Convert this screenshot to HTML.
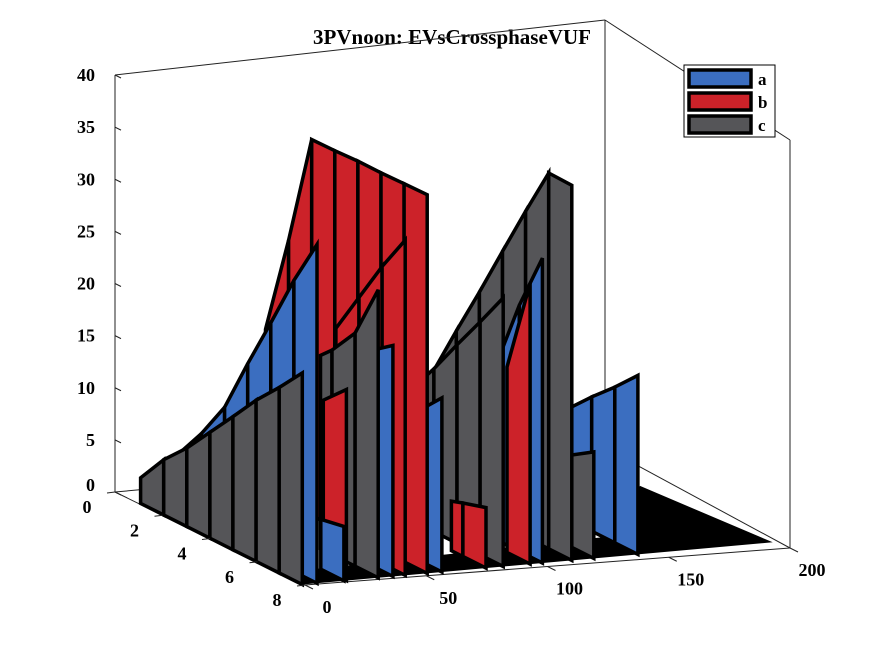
<!DOCTYPE html>
<html><head><meta charset="utf-8"><style>
html,body{margin:0;padding:0;background:#fff;}
svg{display:block;font-family:"Liberation Serif",serif;font-weight:bold;}
</style></head><body>
<svg id="chart" width="875" height="656" viewBox="0 0 875 656">
<text x="452" y="44" text-anchor="middle" font-size="21">3PVnoon: EVsCrossphaseVUF</text>
<g id="box"></g>
<g id="floor"></g>
<g id="marks"></g>
<g id="ticks"></g>
<g>
<rect x="684" y="65" width="91" height="72" fill="#fff" stroke="#000" stroke-width="1"/>
<g><rect x="689" y="70" width="62" height="17" fill="#3b6ec0" stroke="#000" stroke-width="3.5"/><text x="758" y="85" font-size="17">a</text></g>
<g><rect x="689" y="93" width="62" height="17" fill="#cc2229" stroke="#000" stroke-width="3.5"/><text x="758" y="108" font-size="17">b</text></g>
<g><rect x="689" y="116" width="62" height="17" fill="#555558" stroke="#000" stroke-width="3.5"/><text x="758" y="131" font-size="17">c</text></g>
</g>
</svg>
<script>
// ---- data ----
const seriesNames = ['a','b','c'];
const seriesColors = ['#3b6ec0','#cc2229','#555558'];
const zTicks = [0,5,10,15,20,25,30,35,40];
const yTicks = [0,2,4,6,8];
const xTicks = [0,50,100,150,200];
// ribbons in draw order (back to front)
const ribbonSeries = ['a','c','c','a','b','c','b','a','b','b','a','c','b','a','a','c'];
const ribbonX = [138,120,111,99,94,83,76,58,52,43,38,32,19,18,7,1];
const ribbonYs = [
 [5,6,7,8],[7,8],[2,3,4,5,6,7,8],[6,7,8],[7,8],[4,5,6,7,8],[6.5,7,8],[6,7,8],
 [1,2,3,4,5,6,7,8],[5,6,7,8],[7,8],[5.5,6,7,8],[7,8],[7,8],[1,2,3,4,5,6,7,8],[1,2,3,4,5,6,7,8]];
const ribbonZs = [
 [9.7,11.5,13.1,14.8],[7.7,8.8],[11,15.5,19.7,23.9,27.9,31.6,31],[15,20.7,25.2],[15.6,23.2],
 [11.6,14.2,17,19.6,22.2],[4.2,4.5,5],[10,12.6,14.4],
 [15.3,24.3,34,33.4,32.9,32.3,31.8,31.3],[18.5,21.8,25,27.7],[18,19.1],[16.7,17.5,19.6,23.8],
 [14.2,15.8],[4.2,4.5],[2.8,5.5,8.3,11.5,16.1,20.3,24.5,28],[2.4,5.1,7.1,9.4,11.6,13.8,15.6,17.5]];
const floorXs = [0,0,140,186,193];
const floorYs = [8,7,6.5,3,8];

// ---- projection ----
function P(x,y,z){ return [115+2.45*x+23.1*y, 492-0.22*x+11.6*y - z*10.43*(1+0.02*y)]; }
// axis box corners (screen) for the bounding box: back-left, front-left, front-right, back-right
const BL=[115,492], FL=[305,585], FR=[790,548], BR=[605,448];
const BLt=[115,75], BRt=[605,20], FRt=[790,140];
function lerp(a,b,t){return [a[0]+(b[0]-a[0])*t, a[1]+(b[1]-a[1])*t];}
const NS='http://www.w3.org/2000/svg';
function el(tag,attrs,parent){const e=document.createElementNS(NS,tag);for(const k in attrs)e.setAttribute(k,attrs[k]);parent.appendChild(e);return e;}
function pts(a){return a.map(p=>p[0].toFixed(1)+','+p[1].toFixed(1)).join(' ');}

// box
const box=document.getElementById('box');
const boxLines=[[BL,BLt],[BLt,BRt],[BRt,BR],[BRt,FRt],[FRt,FR],[BR,FR],[BL,FL],[FL,FR],[BL,BR]];
boxLines.forEach(l=>{const a=l[0],b=l[1];
 const ln=el('line',{x1:a[0],y1:a[1],x2:b[0],y2:b[1],stroke:'#222','stroke-width':1},box);
 
 });

// floor
const fl=document.getElementById('floor');
const fp=floorXs.map((x,i)=>P(x,floorYs[i],0));
const fpoly=el('polygon',{points:pts(fp),fill:'#000'},fl);



// ribbons
const marks=document.getElementById('marks');
ribbonX.forEach((x,i)=>{
 const col=seriesColors[seriesNames.indexOf(ribbonSeries[i])];
 const g=el('g',{},marks);
 
 
 const ys=ribbonYs[i], zs=ribbonZs[i];
 for(let k=0;k<ys.length-1;k++){
  const q=[P(x,ys[k],0),P(x,ys[k],zs[k]),P(x,ys[k+1],zs[k+1]),P(x,ys[k+1],0)];
  const pg=el('polygon',{points:pts(q),fill:col,stroke:'#000','stroke-width':3.5,'stroke-linejoin':'miter'},g);
  
  
 }
});

// ticks
const tk=document.getElementById('ticks');
zTicks.forEach(z=>{const p=lerp(BL,BLt,z/40);
 const l=el('line',{x1:p[0],y1:p[1],x2:p[0]+6,y2:p[1]+3,stroke:'#222','stroke-width':1},tk);
 
 
 const t=el('text',{x:p[0]-20,y:p[1]+(z===0?-1:6),'text-anchor':'end','font-size':18},tk);
 t.textContent=z;
 
 });
yTicks.forEach(y=>{const p=lerp(BL,FL,y/8);
 const l=el('line',{x1:p[0],y1:p[1],x2:p[0]-8,y2:p[1]+1,stroke:'#222','stroke-width':1},tk);
 
 
 const t=el('text',{x:p[0]-28,y:p[1]+21,'text-anchor':'middle','font-size':18},tk);
 t.textContent=y;
 
 });
xTicks.forEach(x=>{const p=lerp(FL,FR,x/200);
 const l=el('line',{x1:p[0],y1:p[1],x2:p[0]+8,y2:p[1]+4,stroke:'#222','stroke-width':1},tk);
 
 
 const t=el('text',{x:p[0]+22,y:p[1]+28,'text-anchor':'middle','font-size':18},tk);
 t.textContent=x;
 
 });
</script>
</body></html>
